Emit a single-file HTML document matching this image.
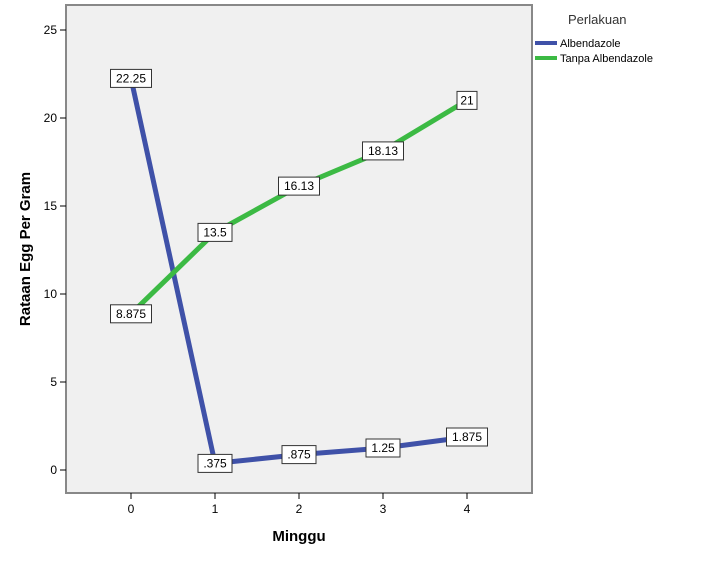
<!DOCTYPE html>
<html><head><meta charset="utf-8"><style>
body{margin:0;background:#fff;width:711px;height:560px;overflow:hidden}
svg text{font-family:"Liberation Sans",sans-serif}
</style></head><body>
<svg id="c" width="711" height="560">
<rect x="66" y="5" width="466" height="488" fill="#f0f0f0" stroke="#888" stroke-width="2"/>
<text transform="translate(30,249) rotate(-90)" text-anchor="middle" font-size="15" font-weight="bold">Rataan Egg Per Gram</text>
<text x="299" y="541" text-anchor="middle" font-size="15" font-weight="bold">Minggu</text>
<text x="568" y="24" font-size="13" fill="#333">Perlakuan</text>
<g id="legend"></g>
<g id="axes"></g>
<g id="series"></g>
</svg>
<script>
const categories=[0,1,2,3,4];
const albendazole=[22.25,0.375,0.875,1.25,1.875];
const tanpa=[8.875,13.5,16.13,18.13,21];
const albLabels=["22.25",".375",".875","1.25","1.875"];
const tanpaLabels=["8.875","13.5","16.13","18.13","21"];
const yTicks=[0,5,10,15,20,25];
const seriesNames=["Albendazole","Tanpa Albendazole"];
const NS="http://www.w3.org/2000/svg";
const xs=v=>131+v*84;
const ys=v=>470-v*17.6;
function mk(t,a,p){const e=document.createElementNS(NS,t);for(const k in a)e.setAttribute(k,a[k]);p.appendChild(e);return e;}
const ax=document.getElementById('axes');
yTicks.forEach(t=>{
 const l=mk('line',{x1:60,x2:66,y1:ys(t),y2:ys(t),stroke:'#000'},ax);
 
 
 const tx=mk('text',{x:57,y:ys(t)+4,'text-anchor':'end','font-size':12},ax);tx.textContent=t;
 
 
});
categories.forEach(c=>{
 const l=mk('line',{x1:xs(c),x2:xs(c),y1:493,y2:499,stroke:'#000'},ax);
 
 
 const tx=mk('text',{x:xs(c),y:513,'text-anchor':'middle','font-size':12},ax);tx.textContent=c;
 
 
});
const sg=document.getElementById('series');
const colors=['#3f51a8','#3cba44'];
[[albendazole,albLabels],[tanpa,tanpaLabels]].forEach(([vals,labs],i)=>{
 const pl=mk('polyline',{points:categories.map((c,j)=>xs(c)+','+ys(vals[j])).join(' '),fill:'none',stroke:colors[i],'stroke-width':5},sg);
 
 
});
[[albendazole,albLabels],[tanpa,tanpaLabels]].forEach(([vals,labs],i)=>{
 categories.forEach((c,j)=>{
  const w=labs[j].length*7+6;
  const g=mk('g',{},sg);
  
  
  mk('rect',{x:xs(c)-w/2,y:ys(vals[j])-9,width:w,height:18,fill:'#fff',stroke:'#333'},g);
  const t=mk('text',{x:xs(c),y:ys(vals[j])+4,'text-anchor':'middle','font-size':12},g);t.textContent=labs[j];
 });
});
const lg=document.getElementById('legend');
seriesNames.forEach((n,i)=>{
 const g=mk('g',{},lg);
 
 
 mk('line',{x1:535,x2:557,y1:43+i*15,y2:43+i*15,stroke:colors[i],'stroke-width':4},g);
 const t=mk('text',{x:560,y:47+i*15,'font-size':11},g);t.textContent=n;
});
</script>
</body></html>
